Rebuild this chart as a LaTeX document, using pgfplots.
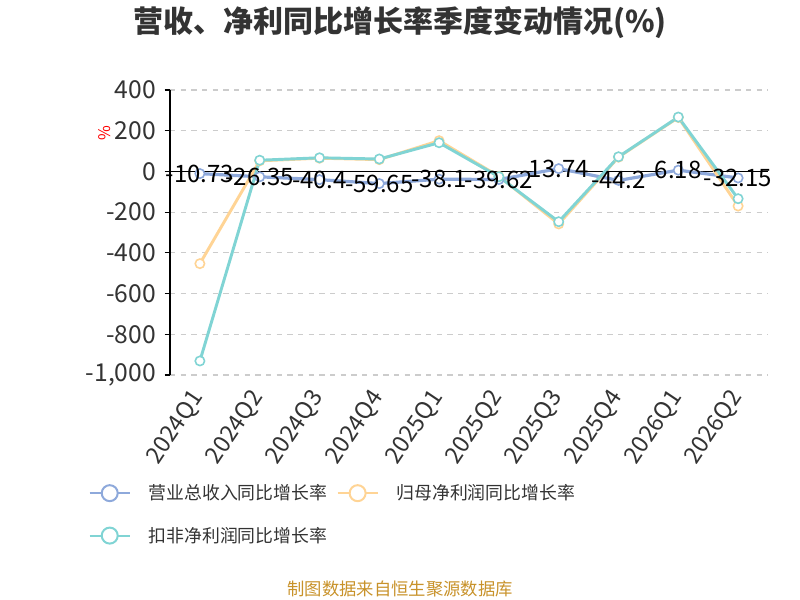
\documentclass[border=0pt]{standalone}
\usepackage{pgfplots}
\pgfplotsset{compat=1.18}
\usepackage{fontspec}
\setmainfont{Noto Sans CJK SC}
\definecolor{cblue}{HTML}{8EA9DB}
\definecolor{corange}{HTML}{FFD495}
\definecolor{cteal}{HTML}{80D4D4}
\definecolor{ctext}{HTML}{333333}
\definecolor{cgrid}{HTML}{CCCCCC}
\definecolor{cfoot}{HTML}{C8922A}
\begin{document}
\begin{tikzpicture}
\useasboundingbox (0,0) rectangle (600bp,450bp);
\node[font=\fontsize{22.5bp}{26bp}\selectfont\bfseries, text=ctext] at (300bp,433bp) {营收、净利同比增长率季度变动情况(\%)};
\node[font=\fontsize{13bp}{15bp}\selectfont, text=cfoot] at (300bp,8bp) {制图数据来自恒生聚源数据库};
\begin{axis}[
  at={(127.5bp,168.75bp)}, anchor=south west,
  scale only axis, width=448.5bp, height=213.75bp,
  xmin=-0.5, xmax=9.5, ymin=-1000, ymax=400,
  axis x line=bottom, axis y line=left,
  x axis line style={draw=none},
  y axis line style={-, black, line width=0.9bp},
  xtick={0,...,9},
  xticklabels={2024Q1,2024Q2,2024Q3,2024Q4,2025Q1,2025Q2,2025Q3,2025Q4,2026Q1,2026Q2},
  xtick style={draw=none},
  xticklabel style={xshift=1bp, yshift=-7bp, rotate=56, anchor=east, font=\fontsize{17.5bp}{19bp}\selectfont, text=ctext},
  ytick={-1000,-800,-600,-400,-200,0,200,400},
  ytick style={black, line width=0.9bp},
  tick align=outside, major tick length=4bp,
  yticklabel style={xshift=-3bp, font=\fontsize{18.5bp}{20bp}\selectfont, text=ctext},
  /pgf/number format/assume math mode=true,
  /pgf/number format/1000 sep={,},
  ymajorgrids, grid style={cgrid, dashed, dash pattern=on 4bp off 4bp, line width=0.8bp},
  clip=false,
  legend columns=2,
  legend cell align=left,
  legend style={at={(-0.143,-0.365)}, anchor=north west, draw=none, fill=none,
    font=\fontsize{13.4bp}{15bp}\selectfont, text=ctext,
    /tikz/every even column/.append style={column sep=5bp},
    row sep=15bp},
  legend image code/.code={
    \draw[#1, mark=none, line width=1.5bp] (0bp,0bp) -- (30bp,0bp);
    \draw[#1, mark=none, fill=white, line width=1.5bp] (15bp,0bp) circle (6bp);
    \path (41bp,0bp);
  },
]
\draw[black, line width=1bp] (axis cs:-0.5,0) -- (axis cs:9.5,0);
\addplot[cblue, line width=2.4bp, mark=*, mark size=3.5bp, mark options={fill=white, line width=1.2bp}]
  table[x=x, y=y] {
x y
0 -10.73
1 -26.35
2 -40.4
3 -59.65
4 -38.1
5 -39.62
6 13.74
7 -44.2
8 6.18
9 -32.15
};
\addlegendentry{营业总收入同比增长率}
\addplot[corange, line width=2.2bp, mark=*, mark size=3.5bp, mark options={fill=white, line width=1.2bp}]
  table[x=x, y=y] {
x y
0 -453
1 52
2 65
3 58
4 151
5 -24
6 -258
7 70
8 265
9 -170
};
\addlegendentry{归母净利润同比增长率}
\addplot[cteal, line width=2.2bp, mark=*, mark size=3.5bp, mark options={fill=white, line width=1.2bp}]
  table[x=x, y=y] {
x y
0 -931
1 55
2 67
3 61
4 141
5 -26
6 -247
7 72
8 267
9 -134
};
\addlegendentry{扣非净利润同比增长率}
\addplot[draw=none, mark=none, nodes near coords, point meta=explicit symbolic,
  nodes near coords style={anchor=center, black, font=\fontsize{18bp}{20bp}\selectfont},
  forget plot]
  table[x=x, y=y, meta=lab] {
x y lab
0 -10.73 -10.73
1 -26.35 -26.35
2 -40.4 -40.4
3 -59.65 -59.65
4 -38.1 -38.1
5 -39.62 -39.62
6 13.74 13.74
7 -44.2 -44.2
8 6.18 6.18
9 -32.15 -32.15
};
\node[rotate=90, text=red, font=\fontsize{12bp}{14bp}\selectfont] at (axis cs:-1.6,190) {\%};
\end{axis}
\end{tikzpicture}
\end{document}
